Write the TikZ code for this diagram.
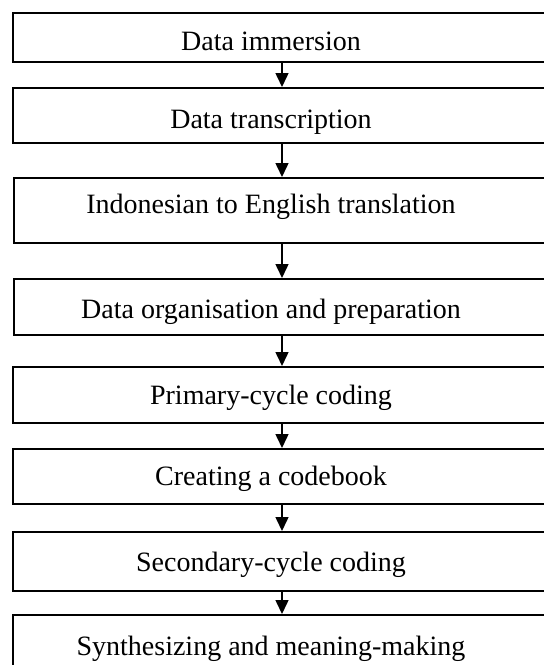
\documentclass[tikz,border=0pt]{standalone}
\usepackage{fontspec}
\setmainfont{Liberation Serif}
\usetikzlibrary{arrows.meta}
\begin{document}
\begin{tikzpicture}[x=1pt,y=-1pt,
  box/.style={draw, line width=1.5pt, inner sep=0pt, anchor=north west, minimum width=#1},
  box/.default=548pt,
  lbl/.style={anchor=base, inner sep=0pt, font=\fontsize{28}{32}\selectfont},
  flow/.style={line width=1.5pt, -{Triangle[width=13pt,length=14pt]}}]
\useasboundingbox (0,0) rectangle (544,665);
\coordinate (ax) at (282,0);
% boxes
\node[box, minimum height=49pt] (b1) at (12,12) {};
\node[box, minimum height=55pt] (b2) at (12,87) {};
\node[box=547pt, minimum height=65pt] (b3) at (13,177) {};
\node[box=547pt, minimum height=56pt] (b4) at (13,278) {};
\node[box, minimum height=56pt] (b5) at (12,366) {};
\node[box, minimum height=55pt] (b6) at (12,448) {};
\node[box, minimum height=59pt] (b7) at (12,531) {};
\node[box, minimum height=70pt] (b8) at (12,614) {};
% labels
\node[lbl] (t1) at (271,50) {Data immersion};
\node[lbl] (t2) at (271,128) {Data transcription};
\node[lbl] (t3) at (271,213) {Indonesian to English translation};
\node[lbl] (t4) at (271,318) {Data organisation and preparation};
\node[lbl] (t5) at (271,404) {Primary-cycle coding};
\node[lbl] (t6) at (271,485) {Creating a codebook};
\node[lbl] (t7) at (271,571) {Secondary-cycle coding};
\node[lbl] (t8) at (271,655) {Synthesizing and meaning-making};
% arrows
\draw[flow] (b1.south -| ax) -- (b2.north -| ax);
\draw[flow] (b2.south -| ax) -- (b3.north -| ax);
\draw[flow] (b3.south -| ax) -- (b4.north -| ax);
\draw[flow] (b4.south -| ax) -- (b5.north -| ax);
\draw[flow] (b5.south -| ax) -- (b6.north -| ax);
\draw[flow] (b6.south -| ax) -- (b7.north -| ax);
\draw[flow] (b7.south -| ax) -- (b8.north -| ax);
\end{tikzpicture}
\end{document}
